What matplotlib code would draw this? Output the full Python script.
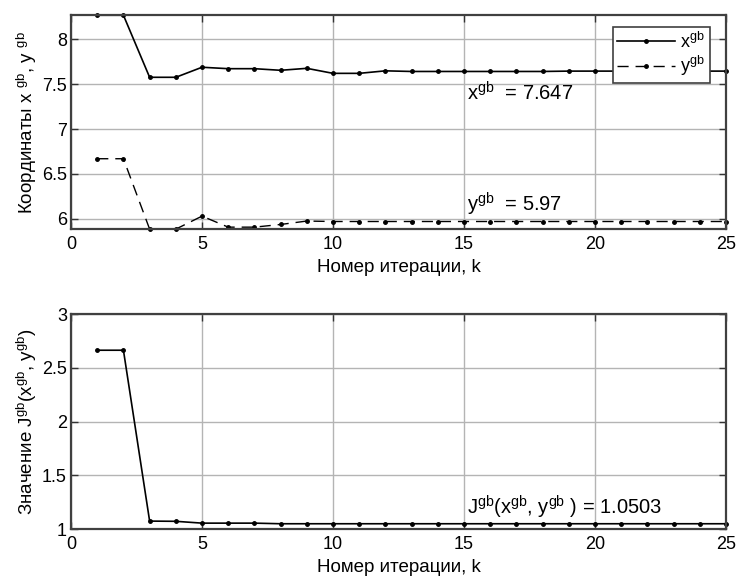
import numpy as np
import matplotlib
matplotlib.use("Agg")
import matplotlib.pyplot as plt
from matplotlib.ticker import FormatStrFormatter

plt.rcParams["font.family"] = ["Liberation Sans", "DejaVu Sans"]
plt.rcParams["mathtext.fontset"] = "custom"
plt.rcParams["mathtext.rm"] = "Liberation Sans"
plt.rcParams["mathtext.it"] = "Liberation Sans"
plt.rcParams["mathtext.default"] = "rm"

k = np.arange(1, 26)
x_gb = [8.27, 8.27, 7.578, 7.578, 7.69, 7.674, 7.674, 7.656, 7.678, 7.622,
        7.622, 7.65, 7.643, 7.643, 7.643, 7.643, 7.643, 7.643, 7.647, 7.647,
        7.647, 7.647, 7.647, 7.647, 7.647]
y_gb = [6.67, 6.67, 5.885, 5.885, 6.03, 5.907, 5.907, 5.937, 5.975, 5.97,
        5.97, 5.97, 5.97, 5.97, 5.97, 5.97, 5.97, 5.97, 5.97, 5.97,
        5.97, 5.97, 5.97, 5.97, 5.97]
j_gb = [2.664, 2.664, 1.075, 1.073, 1.056, 1.056, 1.056, 1.0503, 1.0503, 1.0503,
        1.0503, 1.0503, 1.0503, 1.0503, 1.0503, 1.0503, 1.0503, 1.0503, 1.0503, 1.0503,
        1.0503, 1.0503, 1.0503, 1.0503, 1.0503]

FS = 13
fig = plt.figure(figsize=(7.4, 5.86), dpi=100)
ax1 = fig.add_axes([0.096, 0.609, 0.885, 0.365])
ax2 = fig.add_axes([0.096, 0.097, 0.885, 0.367])


def style(ax):
    ax.grid(True, color="#b4b4b4", linewidth=1.0)
    ax.set_axisbelow(True)
    ax.tick_params(direction="in", length=5, width=1, top=True, right=True,
                   labelsize=FS, pad=5, color="#333333")
    ax.tick_params(axis="y", pad=3)
    for s in ax.spines.values():
        s.set_linewidth(1.6)
        s.set_color("#404040")
    ax.set_xlim(0, 25)
    ax.set_xticks([0, 5, 10, 15, 20, 25])
    ax.yaxis.set_major_formatter(FormatStrFormatter("%g"))
    ax.set_xlabel("Номер итерации, k", fontsize=FS + 0.5, labelpad=4)


ax1.plot(k, x_gb, "-", color="black", marker=".", markersize=5, linewidth=1.2,
         label=r"x$^{gb}$", clip_on=False)
ax1.plot(k, y_gb, "--", color="black", marker=".", markersize=5, linewidth=1.0,
         dashes=(8, 5), label=r"y$^{gb}$", clip_on=False)
style(ax1)
ax1.set_ylim(min(y_gb), max(x_gb))
ax1.set_yticks([6, 6.5, 7, 7.5, 8])
ax1.set_ylabel(r"Координаты x $^{gb}$, y $^{gb}$", fontsize=FS + 0.5, labelpad=2)
ax1.text(15.1, 7.40, r"x$^{gb}$  = 7.647", fontsize=FS + 1.5, va="center")
ax1.text(15.1, 6.16, r"y$^{gb}$  = 5.97", fontsize=FS + 1.5, va="center")
leg = ax1.legend(loc="upper right", bbox_to_anchor=(0.975, 0.945), fontsize=FS,
                 frameon=True, fancybox=False, framealpha=1, edgecolor="#404040",
                 handlelength=3.2, borderaxespad=0, handletextpad=0.3,
                 labelspacing=0.15, borderpad=0.25)
leg.get_frame().set_linewidth(1.2)
leg.set_zorder(5)

ax2.plot(k, j_gb, "-", color="black", marker=".", markersize=5, linewidth=1.2,
         clip_on=False)
style(ax2)
ax2.set_ylim(1, 3)
ax2.set_yticks([1, 1.5, 2, 2.5, 3])
ax2.set_ylabel(r"Значение J$^{gb}$(x$^{gb}$, y$^{gb}$)", fontsize=FS + 0.5, labelpad=2)
ax2.text(15.1, 1.205, r"J$^{gb}$(x$^{gb}$, y$^{gb}$ ) = 1.0503", fontsize=FS + 1.5,
         va="center")

fig.savefig("out.png", dpi=100)
